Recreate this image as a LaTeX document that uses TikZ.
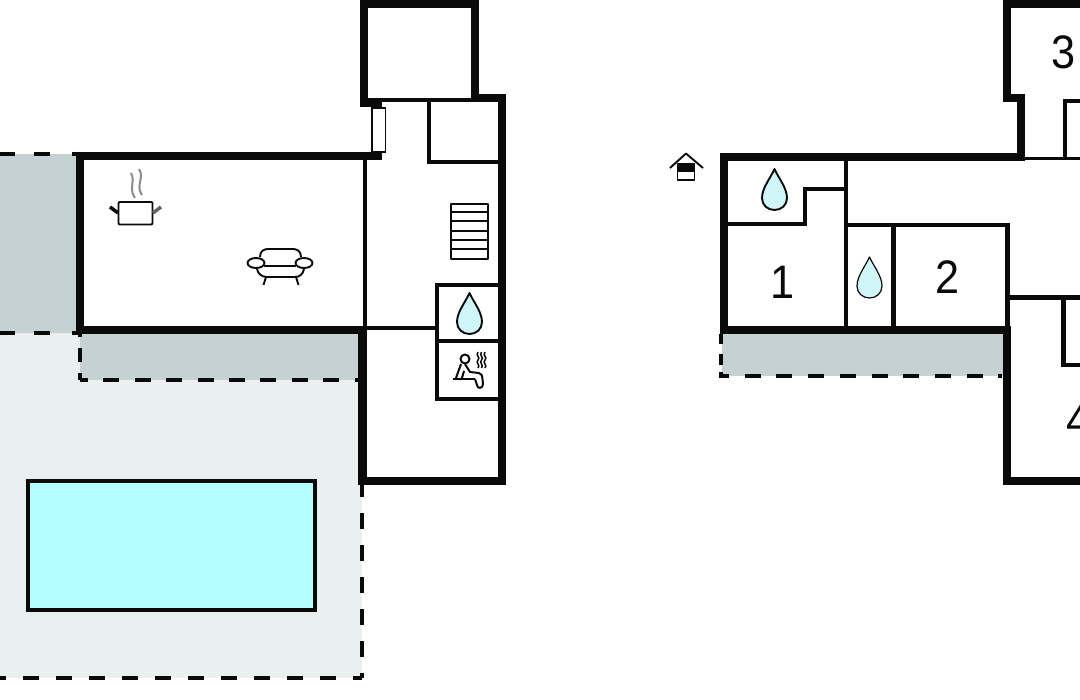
\documentclass[tikz,border=0pt]{standalone}
\usepackage{fontspec}
\setmainfont[FakeStretch=0.92]{Liberation Sans}
\usetikzlibrary{positioning}
\definecolor{inkblack}{HTML}{0A0A0A}
\definecolor{shadegrey}{HTML}{C6D1D4}
\definecolor{yardgrey}{HTML}{E9F0EF}
\definecolor{poolblue}{HTML}{B3FFFF}
\definecolor{dropblue}{HTML}{CFF6F9}
\tikzset{wall/.style={draw=inkblack, line width=8.5pt, miter limit=10}}
\tikzset{partition/.style={draw=inkblack, line width=4.5pt}}
\tikzset{dashline/.style={draw=inkblack, line width=4.5pt, dash pattern=on 16pt off 15.4pt}}
\tikzset{roomno/.style={text=inkblack, inner sep=0pt, font=\fontsize{47}{47}\selectfont}}
\tikzset{icon/.style={draw=inkblack, line width=1.9pt, line join=round}}
\tikzset{waterdrop/.pic={
	\path[pic actions, fill=dropblue] (0,0) .. controls (4,9) and (12.5,19) .. (12.5,29)
		.. controls (12.5,36) and (7,41) .. (0,41) .. controls (-7,41) and (-12.5,36) .. (-12.5,29)
		.. controls (-12.5,19) and (-4,9) .. (0,0) -- cycle;
}}

\begin{document}
\begin{tikzpicture}[x=1pt, y=-1pt]
	\useasboundingbox (0,0) rectangle (1080,700);

	% outdoor areas
	\fill[yardgrey] (0,332) rectangle (362,678);
	\fill[shadegrey] (0,154) rectangle (80,333);
	\fill[shadegrey] (80,330) rectangle (362,380);
	\fill[shadegrey] (722,330) rectangle (1004,376);
	\draw[partition, fill=poolblue] (28,481) rectangle (315,610);

	\draw[dashline] (0,154) -- (15,154) (34,154) -- (53,154) (72,154) -- (80,154);
	\draw[dashline] (0,333) -- (15,333) (34,333) -- (53,333) (72,333) -- (80,333);
	\draw[dashline, dash pattern=on 7pt off 11pt on 14pt off 11pt on 7pt] (80,380) -- (80,332);
	\draw[dashline, dash phase=8pt] (80,380) -- (358,380);
	\draw[dashline, dash pattern=on 16pt off 16pt] (362,481) -- (362,678);
	\draw[dashline, dash pattern=on 16pt off 17pt, dash phase=7pt] (362,678) -- (0,678);
	\draw[dashline, dash pattern=on 6pt off 7pt on 11pt off 10pt on 10pt] (721,378) -- (721,334);
	\draw[dashline, dash pattern=on 16pt off 15.7pt, dash phase=7pt] (720,376) -- (1002,376);

	% left plan
	\draw[partition] (364,100) -- (502,100);
	\draw[partition] (429,100) -- (429,162) -- (502,162);
	\draw[partition] (365,156) -- (365,330);
	\draw[partition] (365,328) -- (437,328);
	\draw[partition] (502,285) -- (437,285) -- (437,399) -- (502,399);
	\draw[partition] (437,341) -- (502,341);
	\draw[wall] (364,107) -- (364,4) -- (475,4) -- (475,98) -- (502,98) -- (502,481) -- (362.5,481)
		-- (362.5,330) -- (80,330) -- (80,156) -- (382,156);
	\fill[inkblack] (360,98) rectangle (382,107);
	\draw[draw=inkblack, line width=1.5pt, fill=white] (372,108) rectangle (385.5,152);

	% stairs
	\draw[icon] (451,204) rectangle (488,259);
	\foreach \y in {212,221,231,240,249}
		\draw[icon] (451,\y) -- (488,\y);

	\pic[icon] at (469.5,293) {waterdrop};

	% sauna
	\draw[icon, line width=2pt] (465,359) circle (4.5);
	\draw[icon, line width=2pt] (453,379) -- (475,379);
	\draw[icon, line width=2pt] (461,364) -- (456,378) (462,378) -- (464,371);
	\draw[icon, line width=2pt] (465,364) -- (470,372) -- (479,373) .. controls (482,374) .. (483,384)
		.. controls (483,389) and (477,389) .. (477,385) -- (475,379);
	\foreach \x in {478,481.5,485}
		\draw[icon, line width=1.5pt] (\x,352) .. controls (\x-3,356) and (\x+3,357) .. (\x,360)
			.. controls (\x-3,363) and (\x+3,365) .. (\x,368);

	% pot
	\draw[icon, rounded corners=1pt] (118.5,202) -- (152.5,202) -- (152.5,224.5) -- (118.5,224.5) -- cycle;
	\draw[inkblack, line width=3.5pt] (110,207) -- (118,213);
	\draw[black!60, line width=3.5pt] (153,213) -- (161,207);
	\draw[black!45, line width=2pt] (135,198) .. controls (128,188) and (136,182) .. (131,173);
	\draw[black!45, line width=2pt] (142,195) .. controls (135,185) and (145,178) .. (139,169);

	% sofa
	\draw[icon] (260,257) .. controls (260,251) and (264,249) .. (268,249) -- (293,249)
		.. controls (297,249) and (301,251) .. (301,257);
	\draw[icon] (264,266) -- (296,266);
	\draw[icon] (257,269) .. controls (258,274) and (262,277) .. (267,277) -- (295,277)
		.. controls (300,277) and (303,274) .. (304,269);
	\draw[icon] (266,277) -- (263.5,285) (296,277) -- (298.5,285);
	\draw[icon, fill=white] (256,263) ellipse (8.5 and 5);
	\draw[icon, fill=white] (304,263) ellipse (8.5 and 5);

	% right plan
	\draw[partition] (846,157) -- (846,330);
	\draw[partition] (726,224) -- (805,224) -- (805,189) -- (846,189);
	\draw[partition] (846,225) -- (1007.5,225) -- (1007.5,330);
	\draw[partition] (893.5,225) -- (893.5,330);
	\draw[partition] (1007,297.5) -- (1080,297.5);
	\draw[partition] (1080,365) -- (1063.5,365) -- (1063.5,297.5);
	\draw[partition] (1080,101) -- (1065,101) -- (1065,158);
	\draw[draw=inkblack, line width=3pt] (1021,158.5) -- (1080,158.5);
	\draw[wall] (1080,481) -- (1007,481) -- (1007,330) -- (724,330) -- (724,157) -- (1021,157)
		-- (1021,98) -- (1007,98) -- (1007,4) -- (1080,4);

	\pic[icon] at (774.5,169) {waterdrop};
	\pic[icon, line width=1.2pt] at (869.5,257) {waterdrop};

	\node[roomno] (room1) at (783,282) {1};
	\node[roomno] (room2) at (948,277) {2};
	\node[roomno] (room3) at (1064,52) {3};
	\node[roomno] (room4) at (1079,420) {4};

	% entrance
	\draw[icon] (670,168) -- (686,153.5) -- (703,168);
	\draw[icon] (677.5,164) rectangle (694.5,180);
	\fill[inkblack] (677.5,163) rectangle (694.5,172);
\end{tikzpicture}
\end{document}
